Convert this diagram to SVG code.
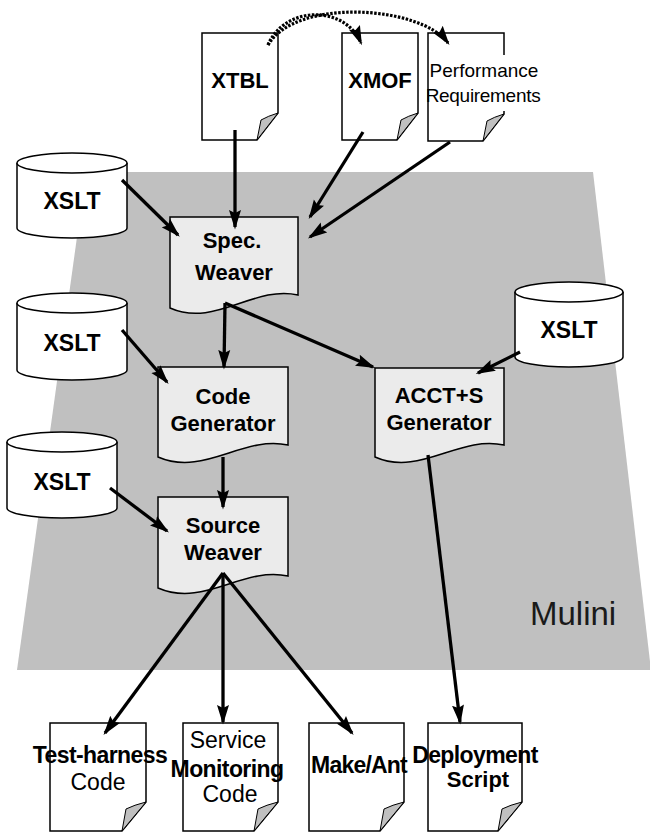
<svg xmlns="http://www.w3.org/2000/svg" width="650" height="832" viewBox="0 0 650 832">
  <style>
    .doc { fill: #ffffff; stroke: #000; stroke-width: 1.5; }
    .curl { fill: #c0c0c0; stroke: #000; stroke-width: 1; stroke-linejoin: round; }
    .proc { fill: #ebebeb; stroke: #000; stroke-width: 1.5; }
    .cyl { fill: #ffffff; stroke: #000; stroke-width: 1.5; }
    .lbl { font-family: "Liberation Sans", Arial, sans-serif; font-size: 22px; font-weight: bold; fill: #000; text-anchor: middle; }
    .reg { font-weight: normal; }
    .conn { fill: none; stroke: #000; stroke-width: 3.3; }
    .dot { fill: none; stroke: #000; stroke-width: 3.2; stroke-dasharray: 2.5 1.5; }
  </style>
  <defs>
    <marker id="arrow" markerUnits="userSpaceOnUse" markerWidth="20" markerHeight="13" refX="17" refY="6.5" orient="auto">
      <path d="M0,0.5 L19.5,6.5 L0,12.5 L3,6.5 Z" fill="#000"/>
    </marker>
  </defs>

  <!-- Mulini platform area -->
  <polygon points="86,172 593,172 651,670 17,670" fill="#c0c0c0"/>
  <text x="530" y="625" style="font-family:'Liberation Sans',Arial,sans-serif;font-size:33px;fill:#1a1a1a">Mulini</text>

  <!-- input specification documents -->
  <g id="xtbl">
    <path class="doc" d="M202,33 H278 V113 L257,140 H202 Z"/>
    <path class="curl" d="M257,140 L261,120 Q268,116 278,113 Z"/>
    <text class="lbl" x="240" y="88">XTBL</text>
  </g>
  <g id="xmof">
    <path class="doc" d="M342,33 H418 V113 L397,140 H342 Z"/>
    <path class="curl" d="M397,140 L401,120 Q408,116 418,113 Z"/>
    <text class="lbl" x="380" y="88">XMOF</text>
  </g>
  <g id="perf">
    <path class="doc" d="M428,33 H504 V114 L483,141 H428 Z"/>
    <path class="curl" d="M483,141 L487,121 Q494,117 504,114 Z"/>
    <rect x="430" y="55" width="112" height="56" fill="#ffffff"/>
    <text class="lbl reg" x="484" y="77" style="font-size:19px">Performance</text>
    <text class="lbl reg" x="483" y="102" style="font-size:19px;letter-spacing:-0.3px">Requirements</text>
  </g>

  <!-- XSLT template stores -->
  <g id="xslt1">
    <path class="cyl" d="M17,163 A55,10 0 0 1 127,163 V228 A55,10 0 0 1 17,228 Z"/>
    <path class="cyl" d="M17,163 A55,10 0 0 0 127,163"/>
    <text class="lbl" x="72" y="209" style="font-size:23px">XSLT</text>
  </g>
  <g id="xslt2">
    <path class="cyl" d="M17,303 A55,10 0 0 1 127,303 V370 A55,10 0 0 1 17,370 Z"/>
    <path class="cyl" d="M17,303 A55,10 0 0 0 127,303"/>
    <text class="lbl" x="72" y="351" style="font-size:23px">XSLT</text>
  </g>
  <g id="xslt3">
    <path class="cyl" d="M515,292 A54,10 0 0 1 623,292 V357 A54,10 0 0 1 515,357 Z"/>
    <path class="cyl" d="M515,292 A54,10 0 0 0 623,292"/>
    <text class="lbl" x="569" y="338" style="font-size:23px">XSLT</text>
  </g>
  <g id="xslt4">
    <path class="cyl" d="M7,442 A55,10 0 0 1 117,442 V508 A55,10 0 0 1 7,508 Z"/>
    <path class="cyl" d="M7,442 A55,10 0 0 0 117,442"/>
    <text class="lbl" x="62" y="490" style="font-size:23px">XSLT</text>
  </g>

  <!-- Mulini processing stages -->
  <g id="spec-weaver">
    <path class="proc" d="M170,217 H298 V295 C253,285 215,328 170,308 Z"/>
    <text class="lbl" x="232" y="248">Spec.</text>
    <text class="lbl" x="234" y="280">Weaver</text>
  </g>
  <g id="code-generator">
    <path class="proc" d="M158,367 H288 V445 C243,435 204,477 158,457 Z"/>
    <text class="lbl" x="223" y="404">Code</text>
    <text class="lbl" x="223" y="431">Generator</text>
  </g>
  <g id="acct-generator">
    <path class="proc" d="M375,368 H504 V445 C459,435 420,477 375,457 Z"/>
    <text class="lbl" x="439" y="403">ACCT+S</text>
    <text class="lbl" x="439" y="430">Generator</text>
  </g>
  <g id="source-weaver">
    <path class="proc" d="M158,497 H288 V576 C243,566 204,608 158,588 Z"/>
    <text class="lbl" x="223" y="533">Source</text>
    <text class="lbl" x="223" y="560">Weaver</text>
  </g>

  <!-- generated artifacts -->
  <g id="test-harness">
    <path class="doc" d="M50,723 H146 V802 L122,831 H50 Z"/>
    <path class="curl" d="M122,831 L126,809 Q134,805 146,802 Z"/>
    <text class="lbl" x="100" y="763" style="font-size:23px;letter-spacing:-0.6px">Test-harness</text>
    <text class="lbl reg" x="98" y="790" style="font-size:23px">Code</text>
  </g>
  <g id="service-monitoring">
    <path class="doc" d="M183,723 H278 V802 L254,831 H183 Z"/>
    <path class="curl" d="M254,831 L258,809 Q266,805 278,802 Z"/>
    <text class="lbl reg" x="228" y="748" style="font-size:23px">Service</text>
    <text class="lbl" x="227" y="777" style="font-size:23px;letter-spacing:-0.6px">Monitoring</text>
    <text class="lbl reg" x="230" y="802" style="font-size:23px">Code</text>
  </g>
  <g id="make-ant">
    <path class="doc" d="M309,723 H404 V802 L380,831 H309 Z"/>
    <path class="curl" d="M380,831 L384,809 Q392,805 404,802 Z"/>
    <text class="lbl" x="359" y="773" style="font-size:23px;letter-spacing:-0.8px">Make/Ant</text>
  </g>
  <g id="deployment">
    <path class="doc" d="M428,723 H522 V802 L498,831 H428 Z"/>
    <path class="curl" d="M498,831 L502,809 Q510,805 522,802 Z"/>
    <text class="lbl" x="475" y="763" style="font-size:23px;letter-spacing:-0.6px">Deployment</text>
    <text class="lbl" x="478" y="787">Script</text>
  </g>

  <!-- connectors -->
  <g id="connectors">
    <path class="dot" d="M268,45 C285,5 345,5 361,43" marker-end="url(#arrow)"/>
    <path class="dot" d="M268,45 C295,-2 420,5 448,43" marker-end="url(#arrow)"/>
    <path class="conn" d="M235,130 L235,227" marker-end="url(#arrow)"/>
    <path class="conn" d="M363,132 L310,217" marker-end="url(#arrow)"/>
    <path class="conn" d="M450,142 L310,237" marker-end="url(#arrow)"/>
    <path class="conn" d="M122,180 L178,235" marker-end="url(#arrow)"/>
    <path class="conn" d="M225,303 L224,367" marker-end="url(#arrow)"/>
    <path class="conn" d="M225,303 L373,367" marker-end="url(#arrow)"/>
    <path class="conn" d="M122,330 L167,382" marker-end="url(#arrow)"/>
    <path class="conn" d="M520,352 L478,373" marker-end="url(#arrow)"/>
    <path class="conn" d="M223,457 L223,507" marker-end="url(#arrow)"/>
    <path class="conn" d="M110,488 L167,531" marker-end="url(#arrow)"/>
    <path class="conn" d="M428,455 L460,722" marker-end="url(#arrow)"/>
    <path class="conn" d="M223,573 L105,733" marker-end="url(#arrow)"/>
    <path class="conn" d="M223,573 L223,722" marker-end="url(#arrow)"/>
    <path class="conn" d="M223,573 L352,733" marker-end="url(#arrow)"/>
  </g>
</svg>
